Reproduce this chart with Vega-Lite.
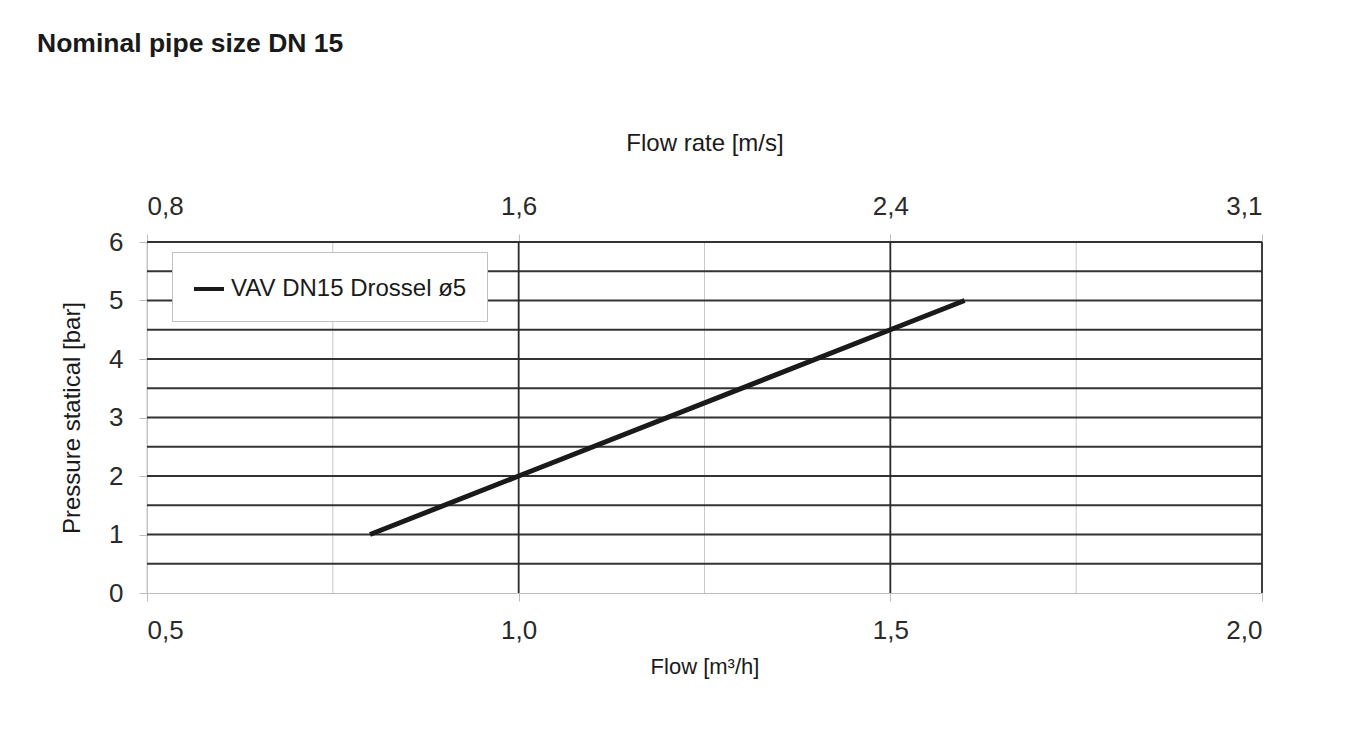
{
  "$schema": "https://vega.github.io/schema/vega-lite/v6.json",
  "width": 1115,
  "height": 351,
  "autosize": {"type": "none"},
  "padding": {"left": 147, "top": 242, "right": 101, "bottom": 161},
  "background": "white",
  "title": {
    "text": "Nominal pipe size DN 15",
    "anchor": "start",
    "frame": "group",
    "dx": -110,
    "offset": 74,
    "fontSize": 26.5,
    "fontWeight": "bold",
    "font": "Liberation Sans",
    "color": "#1a1a1a"
  },
  "config": {
    "view": {"stroke": null},
    "font": "Liberation Sans"
  },
  "datasets": {
    "vlight": [{"flow": 0.5}, {"flow": 0.75}, {"flow": 1.25}, {"flow": 1.75}],
    "vdark": [{"flow": 1.0}, {"flow": 1.5}, {"flow": 2.0}],
    "hdark": [{"pressure": 0.5}, {"pressure": 1}, {"pressure": 1.5}, {"pressure": 2}, {"pressure": 2.5}, {"pressure": 3}, {"pressure": 3.5}, {"pressure": 4}, {"pressure": 4.5}, {"pressure": 5}, {"pressure": 5.5}, {"pressure": 6}],
    "series": [
      {"flow": 0.8, "pressure": 1, "series": "VAV DN15 Drossel ø5"},
      {"flow": 1.0, "pressure": 2, "series": "VAV DN15 Drossel ø5"},
      {"flow": 1.5, "pressure": 4.5, "series": "VAV DN15 Drossel ø5"},
      {"flow": 1.6, "pressure": 5, "series": "VAV DN15 Drossel ø5"}
    ]
  },
  "resolve": {"axis": {"x": "independent", "y": "independent"}},
  "layer": [
    {
      "data": {"name": "vlight"},
      "mark": {"type": "rule", "color": "#c8c8c8", "strokeWidth": 1},
      "encoding": {
        "x": {
          "field": "flow", "type": "quantitative",
          "scale": {"domain": [0.5, 2.0], "nice": false, "zero": false},
          "axis": {
            "orient": "bottom",
            "values": [0.5, 1.0, 1.5, 2.0],
            "labelExpr": "replace(format(datum.value, '.1f'), '.', ',')",
            "title": "Flow [m³/h]",
            "grid": false,
            "domainColor": "#bdbdbd",
            "tickColor": "#bdbdbd",
            "tickSize": 8,
            "labelPadding": 16,
            "labelFontSize": 26,
            "labelColor": "#2a2a2a",
            "labelFont": "Liberation Sans",
            "titleFontSize": 22,
            "titleFontWeight": "normal",
            "titleColor": "#1a1a1a",
            "titleFont": "Liberation Sans",
            "titlePadding": 13
          }
        },
        "y": {"datum": 0, "type": "quantitative", "scale": {"domain": [0, 6], "nice": false}, "axis": null},
        "y2": {"datum": 6}
      }
    },
    {
      "data": {"name": "hdark"},
      "mark": {"type": "rule", "color": "#333333", "strokeWidth": 1.8},
      "encoding": {
        "x": {"datum": 0.5, "type": "quantitative", "axis": null},
        "x2": {"datum": 2.0},
        "y": {
          "field": "pressure", "type": "quantitative",
          "scale": {"domain": [0, 6], "nice": false},
          "axis": {
            "values": [0, 1, 2, 3, 4, 5, 6],
            "title": "Pressure statical [bar]",
            "grid": false,
            "domainColor": "#bdbdbd",
            "tickColor": "#bdbdbd",
            "tickSize": 8,
            "labelPadding": 16,
            "labelFontSize": 26,
            "labelColor": "#2a2a2a",
            "labelFont": "Liberation Sans",
            "titleFontSize": 24,
            "titleFontWeight": "normal",
            "titleColor": "#1a1a1a",
            "titleFont": "Liberation Sans",
            "titlePadding": 24
          }
        }
      }
    },
    {
      "data": {"name": "vdark"},
      "mark": {"type": "rule", "color": "#2a2a2a", "strokeWidth": 1.8},
      "encoding": {
        "x": {
          "field": "flow", "type": "quantitative",
          "axis": {
            "orient": "top",
            "values": [0.5, 1.0, 1.5, 2.0],
            "labelExpr": "datum.value == 0.5 ? '0,8' : datum.value == 1 ? '1,6' : datum.value == 1.5 ? '2,4' : '3,1'",
            "title": "Flow rate [m/s]",
            "grid": false,
            "domain": false,
            "tickColor": "#bdbdbd",
            "tickSize": 8,
            "labelPadding": 15,
            "labelFontSize": 26,
            "labelColor": "#2a2a2a",
            "labelFont": "Liberation Sans",
            "titleFontSize": 24,
            "titleFontWeight": "normal",
            "titleColor": "#1a1a1a",
            "titleFont": "Liberation Sans",
            "titlePadding": 38
          }
        },
        "y": {"datum": 0, "type": "quantitative", "axis": null},
        "y2": {"datum": 6}
      }
    },
    {
      "data": {"name": "series"},
      "mark": {"type": "line", "strokeWidth": 5, "strokeCap": "butt"},
      "encoding": {
        "x": {"field": "flow", "type": "quantitative", "axis": null},
        "y": {"field": "pressure", "type": "quantitative", "axis": null},
        "color": {
          "field": "series", "type": "nominal",
          "scale": {"domain": ["VAV DN15 Drossel ø5"], "range": ["#1a1a1a"]},
          "legend": {
            "title": null,
            "orient": "none",
            "legendX": 25,
            "legendY": 10,
            "direction": "vertical",
            "fillColor": "white",
            "strokeColor": "#c0c0c0",
            "padding": 20,
            "symbolType": "stroke",
            "symbolSize": 900,
            "symbolStrokeWidth": 4,
            "labelFontSize": 24,
            "labelLimit": 500,
            "labelFont": "Liberation Sans",
            "labelColor": "#1a1a1a",
            "labelOffset": 5
          }
        }
      }
    }
  ]
}
